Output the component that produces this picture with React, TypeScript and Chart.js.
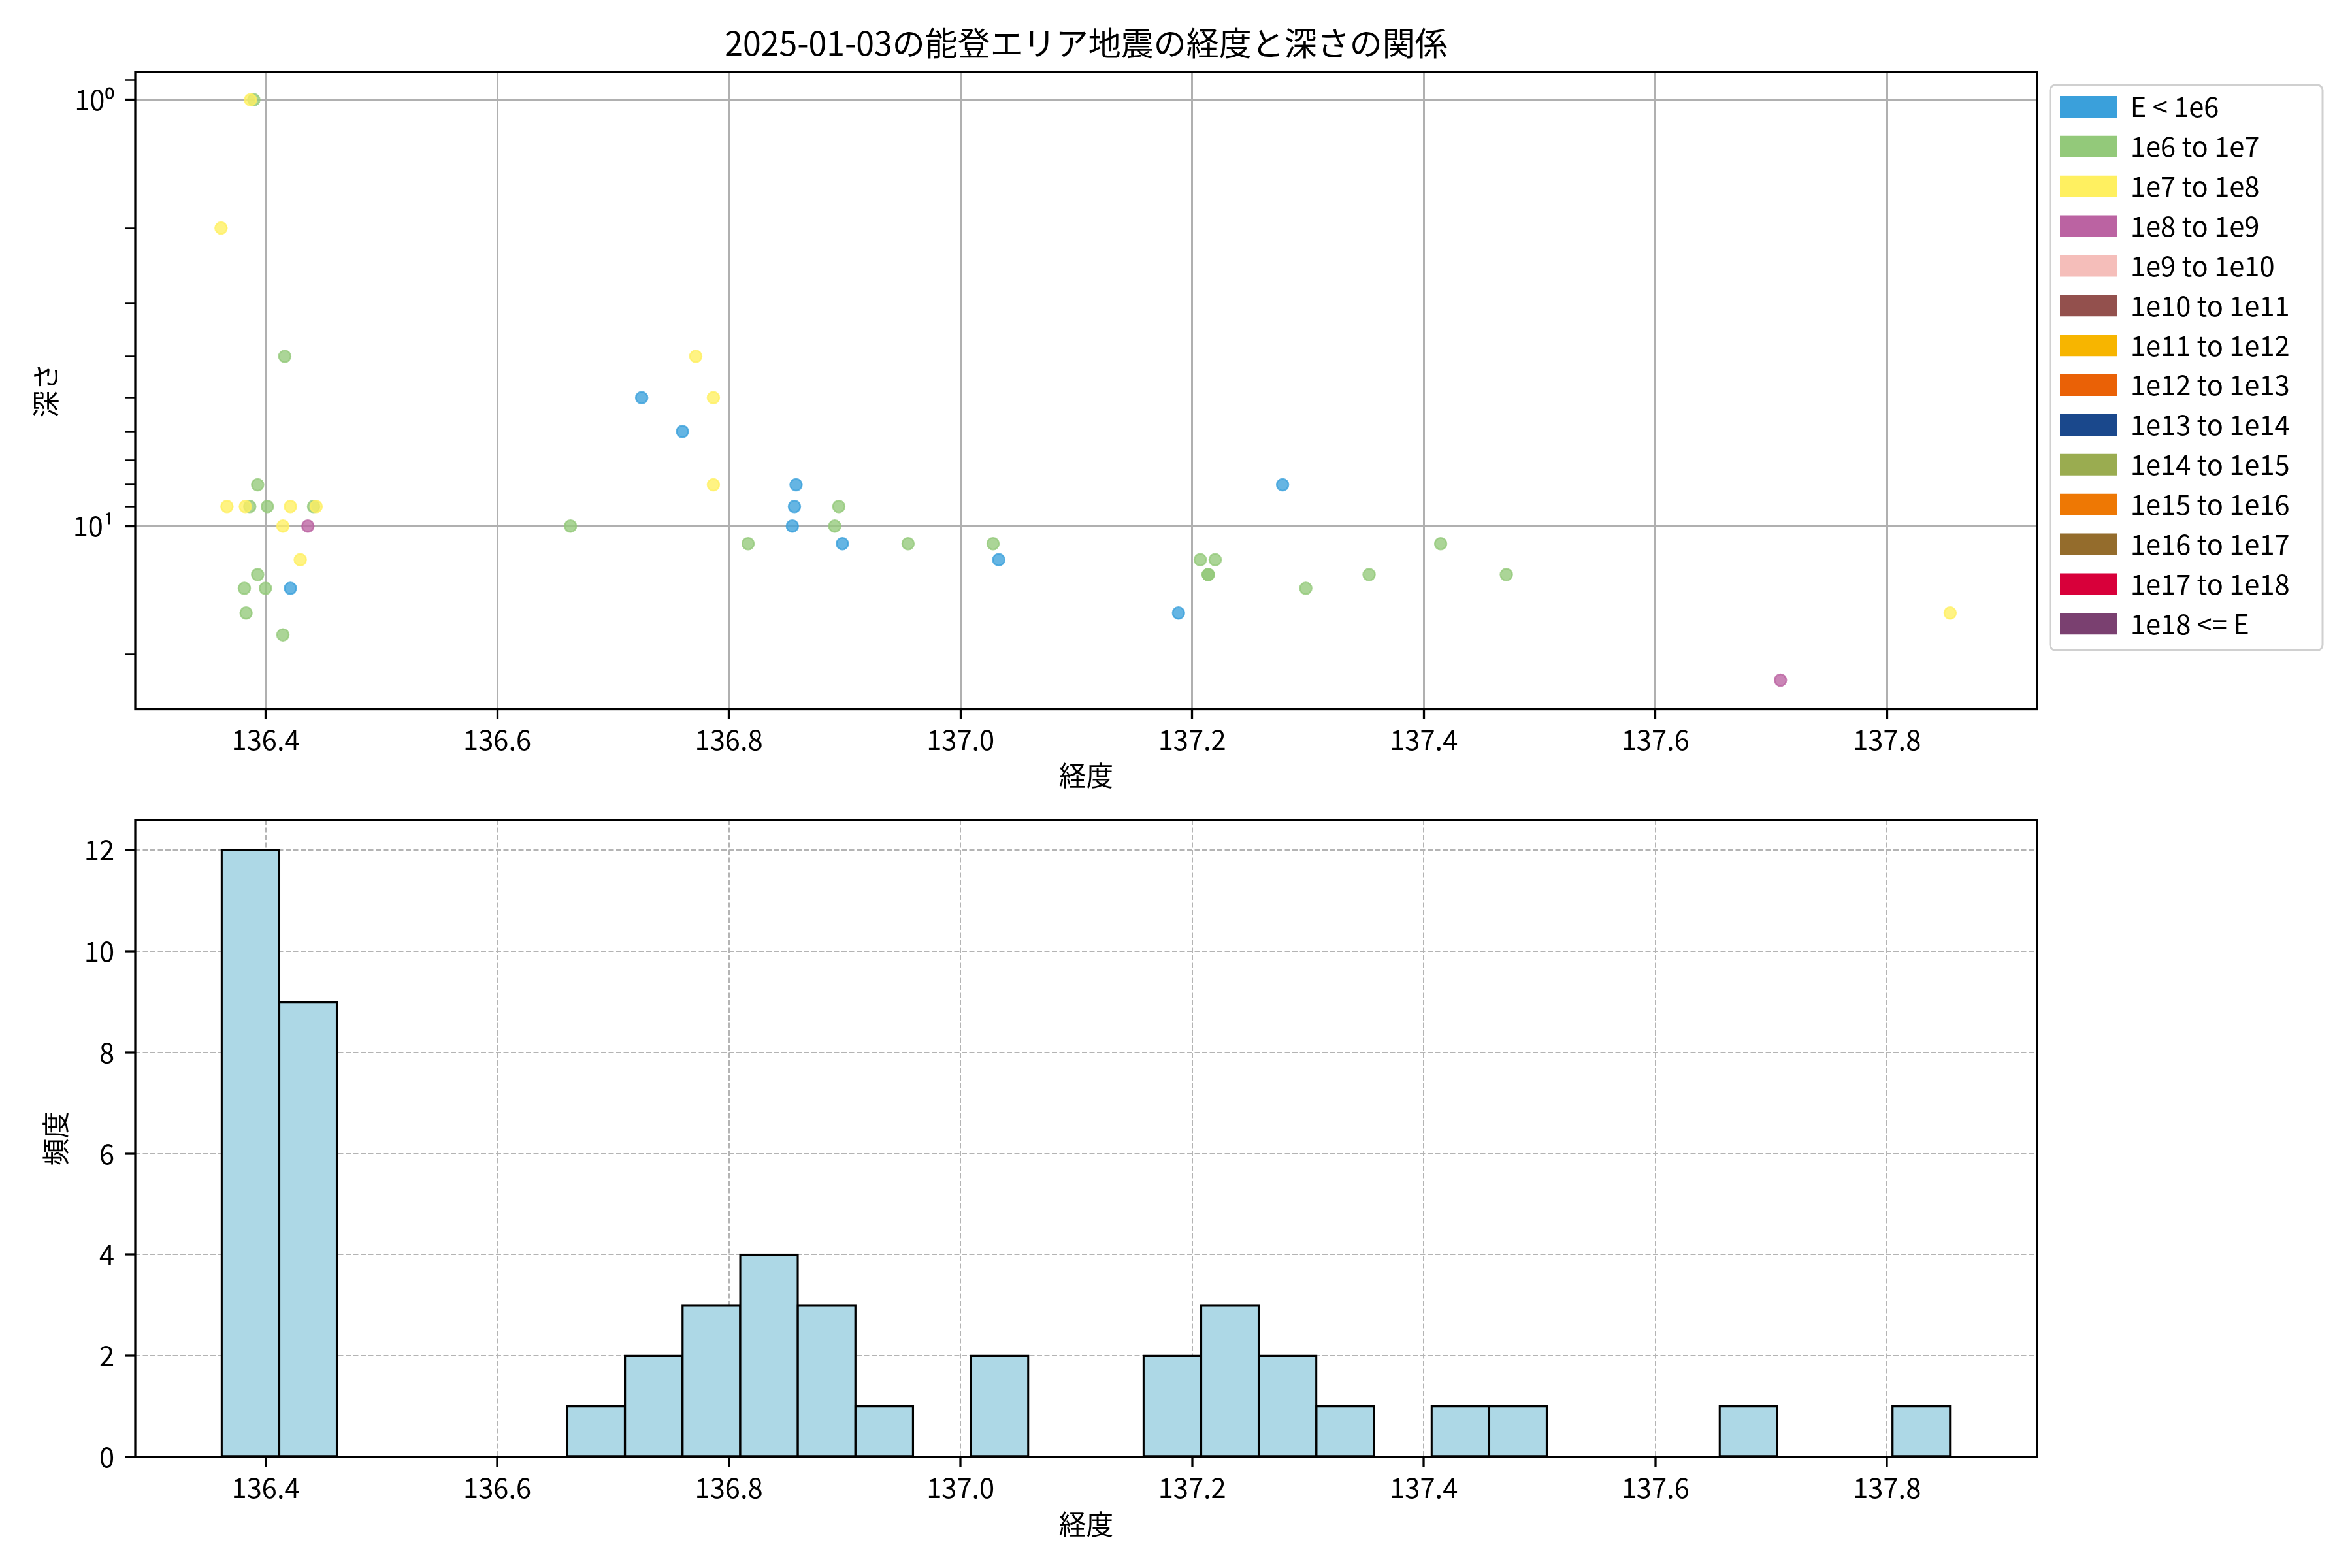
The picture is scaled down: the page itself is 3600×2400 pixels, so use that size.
import React, { useEffect, useRef } from 'react';
import { Chart, registerables } from 'chart.js';

Chart.register(...registerables);

// ---------- text ----------
const TITLE = '2025-01-03の能登エリア地震の経度と深さの関係';
const X_LABEL = '経度';
const DEPTH_LABEL = '深さ';
const FREQ_LABEL = '頻度';

// ---------- energy classes (legend) ----------
const ENERGY_CLASSES = [
  'E < 1e6', '1e6 to 1e7', '1e7 to 1e8', '1e8 to 1e9', '1e9 to 1e10',
  '1e10 to 1e11', '1e11 to 1e12', '1e12 to 1e13', '1e13 to 1e14', '1e14 to 1e15',
  '1e15 to 1e16', '1e16 to 1e17', '1e17 to 1e18', '1e18 <= E',
];
const CLASS_COLORS = [
  '#3AA0DB', '#93C97A', '#FFF060', '#BB63A2', '#F5BEBA',
  '#93504D', '#F7B500', '#EA6106', '#1A488C', '#9AAC50',
  '#EE7804', '#946C2C', '#D8003A', '#7A4070',
];

// ---------- earthquake data (longitude, depth, energy class index) ----------
const LON = [
  136.3869, 136.3898, 136.3615, 136.4165, 136.3931, 136.3666, 136.3825, 136.3863,
  136.4015, 136.4214, 136.4414, 136.4436, 136.4149, 136.4365, 136.4299, 136.3931,
  136.3816, 136.3998, 136.4214, 136.3831, 136.4149,
  136.6632, 136.7714, 136.7247, 136.7866, 136.7599, 136.7866, 136.8580, 136.8566,
  136.8949, 136.8548, 136.8914, 136.8166, 136.8980, 136.9547, 137.0281, 137.0330,
  137.2781, 137.4146, 137.2070, 137.2199, 137.2138, 137.2140, 137.3528, 137.4713,
  137.2981, 137.1882, 137.7080, 137.8545,
];
const DEPTH = [
  1.0, 1.0, 2.0, 4.0, 8.0, 9.0, 9.0, 9.0,
  9.0, 9.0, 9.0, 9.0, 10.0, 10.0, 12.0, 13.0,
  14.0, 14.0, 14.0, 16.0, 18.0,
  10.0, 4.0, 5.0, 5.0, 6.0, 8.0, 8.0, 9.0,
  9.0, 10.0, 10.0, 11.0, 11.0, 11.0, 11.0, 12.0,
  8.0, 11.0, 12.0, 12.0, 13.0, 13.0, 13.0, 13.0,
  14.0, 16.0, 23.0, 16.0,
];
const CLASS_IDX = [
  2, 1, 2, 1, 1, 2, 2, 1,
  1, 2, 1, 2, 2, 3, 2, 1,
  1, 1, 0, 1, 1,
  1, 2, 0, 2, 0, 2, 0, 0,
  1, 0, 1, 1, 0, 1, 1, 0,
  0, 1, 1, 1, 1, 1, 1, 1,
  1, 0, 3, 2,
];

// ---------- axes ----------
const X_MIN = 136.2874;
const X_MAX = 137.9296;
const X_TICKS = [136.4, 136.6, 136.8, 137.0, 137.2, 137.4, 137.6, 137.8];
const DEPTH_MIN = 0.86;
const DEPTH_MAX = 26.9;
const DEPTH_MAJOR_TICKS = [1, 10];
const DEPTH_MAJOR_LABELS = ['10⁰', '10¹'];
const DEPTH_MINOR_TICKS = [0.9, 2, 3, 4, 5, 6, 7, 8, 9, 20];

// ---------- histogram ----------
const HIST_MIN = 136.3620;
const HIST_MAX = 137.8545;
const HIST_COUNTS = [
  12, 9, 0, 0, 0, 0, 1, 2, 3, 4,
  3, 1, 0, 2, 0, 0, 2, 3, 2, 1,
  0, 1, 1, 0, 0, 0, 1, 0, 0, 1,
];
const FREQ_TICKS = [0, 2, 4, 6, 8, 10, 12];
const FREQ_MAX = 12.6;

// ---------- style constants ----------
const FONT_FAMILY = "'Noto Sans CJK JP', 'Noto Sans', sans-serif";
const FS = 41.67;
const AXIS_LEFT = 207;
const LEGEND_W = 3600 - 3118;
const LEGEND_BOX_X = 3153;
const LEGEND_BOX_Y = 147;
const LEGEND_PAD = 19.2;
const LEGEND_BOX_W = 87;
const LEGEND_BOX_H = 33;
const POINT_ALPHA = 0.78;

Chart.defaults.font.family = FONT_FAMILY;
Chart.defaults.color = '#000';

function withAlpha(hex: string, a: number) {
  const r = parseInt(hex.slice(1, 3), 16);
  const g = parseInt(hex.slice(3, 5), 16);
  const b = parseInt(hex.slice(5, 7), 16);
  return `rgba(${r},${g},${b},${a})`;
}

const axesFrame = {
  id: 'axesFrame',
  afterDraw(chart: any) {
    const { left, top, right, bottom } = chart.chartArea;
    const ctx = chart.ctx;
    ctx.save();
    ctx.lineWidth = 3.3;
    ctx.strokeStyle = '#000';
    ctx.strokeRect(left, top, right - left, bottom - top);
    ctx.restore();
  },
};

const legendPlacer = {
  id: 'legendPlacer',
  beforeLayout(chart: any) {
    const lg = chart.legend;
    if (lg && !lg.__sized) {
      const orig = lg.fit;
      lg.fit = function (this: any) {
        orig.call(this);
        this.width = LEGEND_W;
      };
      lg.__sized = true;
    }
  },
  afterLayout(chart: any) {
    const lg = chart.legend;
    if (!lg) return;
    const dx = LEGEND_BOX_X - LEGEND_PAD - lg.left;
    const dy = LEGEND_BOX_Y - LEGEND_PAD - Math.max((FS - LEGEND_BOX_H) / 2, 0) - lg.top;
    lg.left += dx; lg.right += dx;
    lg.top += dy; lg.bottom += dy;
  },
  beforeDraw(chart: any) {
    const ctx = chart.ctx;
    const n = ENERGY_CLASSES.length;
    const x = LEGEND_BOX_X - 15;
    const y = LEGEND_BOX_Y - 17;
    const w = 417;
    const h = (n - 1) * (FS + LEGEND_PAD) + LEGEND_BOX_H + 41;
    ctx.save();
    ctx.beginPath();
    ctx.roundRect(x, y, w, h, 8);
    ctx.fillStyle = 'rgba(255,255,255,0.8)';
    ctx.fill();
    ctx.lineWidth = 3;
    ctx.strokeStyle = '#d0d0d0';
    ctx.stroke();
    ctx.restore();
  },
};

function scatterConfig(): any {
  const datasets = ENERGY_CLASSES.map((label, k) => ({
    label,
    data: LON.map((x, i) => ({ x, y: DEPTH[i], k: CLASS_IDX[i] }))
      .filter((p) => p.k === k)
      .map((p) => ({ x: p.x, y: p.y })),
    backgroundColor: CLASS_COLORS[k],
    borderColor: CLASS_COLORS[k],
    borderWidth: 0,
    pointBackgroundColor: withAlpha(CLASS_COLORS[k], POINT_ALPHA),
    pointBorderColor: withAlpha(CLASS_COLORS[k], POINT_ALPHA),
    pointBorderWidth: 2.5,
    pointRadius: 9,
    pointHoverRadius: 9,
    showLine: false,
    order: -k,
  }));
  const isMajor = (v: number) => DEPTH_MAJOR_TICKS.includes(v);
  return {
    type: 'scatter',
    data: { datasets },
    options: {
      responsive: false,
      animation: false,
      devicePixelRatio: 1,
      events: [],
      layout: { padding: { left: 0, right: 0, top: 0, bottom: 0 } },
      plugins: {
        tooltip: { enabled: false },
        title: {
          display: true,
          text: TITLE,
          fullSize: false,
          color: '#000',
          font: { size: 50, weight: 'normal', family: FONT_FAMILY },
          padding: { top: 36, bottom: 14 },
        },
        legend: {
          display: true,
          position: 'right',
          align: 'start',
          fullSize: false,
          labels: {
            boxWidth: LEGEND_BOX_W,
            boxHeight: LEGEND_BOX_H,
            padding: LEGEND_PAD,
            color: '#000',
            font: { size: FS, family: FONT_FAMILY },
            generateLabels: (chart: any) =>
              ENERGY_CLASSES.map((text, k) => ({
                text,
                datasetIndex: k,
                fillStyle: CLASS_COLORS[k],
                strokeStyle: CLASS_COLORS[k],
                lineWidth: 0,
                hidden: !chart.isDatasetVisible(k),
                fontColor: '#000',
              })),
          },
        },
      },
      scales: {
        x: {
          type: 'linear',
          position: 'bottom',
          min: X_MIN,
          max: X_MAX,
          afterBuildTicks: (axis: any) => {
            axis.ticks = X_TICKS.map((v) => ({ value: v }));
          },
          afterFit: (axis: any) => {
            axis.height = 1230 - 1085.5;
          },
          ticks: {
            autoSkip: false,
            maxRotation: 0,
            padding: 7,
            color: '#000',
            font: { size: FS },
            callback: (v: any) => Number(v).toFixed(1),
          },
          grid: {
            color: '#b0b0b0',
            lineWidth: 3,
            tickColor: '#000',
            tickLength: 15,
            tickWidth: 3.3,
          },
          border: { display: false },
          title: {
            display: true,
            text: X_LABEL,
            color: '#000',
            font: { size: FS },
            padding: { top: 0, bottom: 18 },
          },
        },
        y: {
          type: 'logarithmic',
          position: 'left',
          reverse: true,
          min: DEPTH_MIN,
          max: DEPTH_MAX,
          bounds: 'data',
          afterBuildTicks: (axis: any) => {
            const all = [...DEPTH_MINOR_TICKS, ...DEPTH_MAJOR_TICKS].sort((a, b) => a - b);
            axis.ticks = all.map((v) => ({ value: v, major: isMajor(v) }));
          },
          afterFit: (axis: any) => {
            axis.width = AXIS_LEFT;
          },
          ticks: {
            autoSkip: false,
            padding: 17,
            color: '#000',
            font: { size: FS },
            callback: (v: any) => {
              const idx = DEPTH_MAJOR_TICKS.indexOf(Number(v));
              return idx >= 0 ? DEPTH_MAJOR_LABELS[idx] : '';
            },
          },
          grid: {
            color: (ctx: any) => (ctx.tick && isMajor(ctx.tick.value) ? '#b0b0b0' : 'rgba(0,0,0,0)'),
            lineWidth: 3,
            tickColor: '#000',
            tickLength: 15,
            tickWidth: (ctx: any) => (ctx.tick && isMajor(ctx.tick.value) ? 3.3 : 2.5),
          },
          border: { display: false },
          title: {
            display: true,
            text: DEPTH_LABEL,
            color: '#000',
            font: { size: FS },
            padding: { top: 45, bottom: 0 },
          },
        },
      },
    },
    plugins: [legendPlacer, axesFrame],
  };
}

function histConfig(): any {
  const binW = (HIST_MAX - HIST_MIN) / HIST_COUNTS.length;
  const data = HIST_COUNTS.map((c, i) => ({ x: HIST_MIN + (i + 0.5) * binW, y: c }));
  return {
    type: 'bar',
    data: {
      datasets: [
        {
          label: FREQ_LABEL,
          data,
          backgroundColor: '#ADD8E6',
          borderColor: '#000',
          borderWidth: 3.3,
          borderSkipped: false,
          inflateAmount: 1.65,
          barPercentage: 1,
          categoryPercentage: 1,
          grouped: false,
        },
      ],
    },
    options: {
      responsive: false,
      animation: false,
      devicePixelRatio: 1,
      events: [],
      layout: { padding: { left: 0, right: 3600 - 3118, top: 55, bottom: 0 } },
      plugins: {
        tooltip: { enabled: false },
        legend: { display: false },
        title: { display: false },
      },
      scales: {
        x: {
          type: 'linear',
          position: 'bottom',
          min: X_MIN,
          max: X_MAX,
          offset: false,
          z: 1,
          afterBuildTicks: (axis: any) => {
            axis.ticks = X_TICKS.map((v) => ({ value: v }));
          },
          afterFit: (axis: any) => {
            axis.height = 170;
          },
          ticks: {
            autoSkip: false,
            maxRotation: 0,
            padding: 7,
            color: '#000',
            font: { size: FS },
            callback: (v: any) => Number(v).toFixed(1),
          },
          grid: {
            offset: false,
            color: '#b4b4b4',
            lineWidth: 2,
            tickColor: '#000',
            tickLength: 15,
            tickWidth: 3.3,
          },
          border: { display: false, dash: [8, 3.5] },
          title: {
            display: true,
            text: X_LABEL,
            color: '#000',
            font: { size: FS },
            padding: { top: 0, bottom: 42 },
          },
        },
        y: {
          type: 'linear',
          position: 'left',
          min: 0,
          max: FREQ_MAX,
          z: 1,
          afterBuildTicks: (axis: any) => {
            axis.ticks = FREQ_TICKS.map((v) => ({ value: v }));
          },
          afterFit: (axis: any) => {
            axis.width = AXIS_LEFT;
          },
          ticks: {
            autoSkip: false,
            padding: 17,
            color: '#000',
            font: { size: FS },
            callback: (v: any) => String(v),
          },
          grid: {
            color: '#b4b4b4',
            lineWidth: 2,
            tickColor: '#000',
            tickLength: 15,
            tickWidth: 3.3,
          },
          border: { display: false, dash: [8, 3.5] },
          title: {
            display: true,
            text: FREQ_LABEL,
            color: '#000',
            font: { size: FS },
            padding: { top: 60, bottom: 0 },
          },
        },
      },
    },
    plugins: [axesFrame],
  };
}

export default function App() {
  const topRef = useRef<HTMLCanvasElement>(null);
  const botRef = useRef<HTMLCanvasElement>(null);

  useEffect(() => {
    const c1 = new Chart(topRef.current as HTMLCanvasElement, scatterConfig());
    const c2 = new Chart(botRef.current as HTMLCanvasElement, histConfig());
    return () => {
      c1.destroy();
      c2.destroy();
    };
  }, []);

  return (
    <div style={{ position: 'absolute', left: 0, top: 0, width: 3600, height: 2400, background: '#fff', overflow: 'hidden' }}>
      <canvas
        ref={topRef}
        width={3600}
        height={1230}
        style={{ position: 'absolute', left: 0, top: 0, width: 3600, height: 1230 }}
      />
      <canvas
        ref={botRef}
        width={3600}
        height={1200}
        style={{ position: 'absolute', left: 0, top: 1200, width: 3600, height: 1200 }}
      />
    </div>
  );
}
